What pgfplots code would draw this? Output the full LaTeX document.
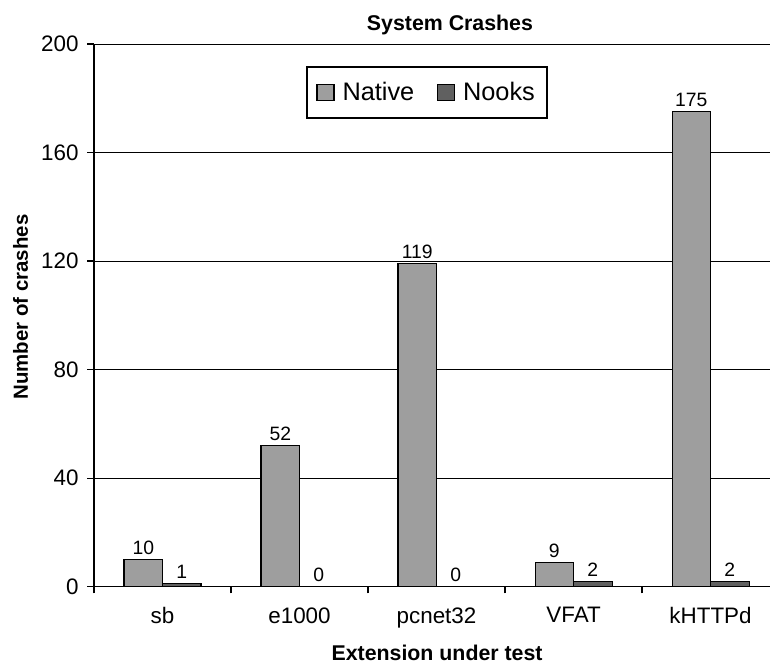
\documentclass[border=0pt]{standalone}
\usepackage{pgfplots}
\pgfplotsset{compat=1.18}
\usepackage{fontspec}
\setmainfont{Liberation Sans}
\definecolor{nativec}{RGB}{158,158,158}
\definecolor{nooksc}{RGB}{96,96,96}
\begin{document}
\begin{tikzpicture}
\begin{axis}[
  at={(0pt,0pt)}, anchor=south west,
  scale only axis, width=507pt, height=407pt,
  xmin=-0.5, xmax=4.434, ymin=0, ymax=200,
  ybar=0pt, bar width=0.281,
  axis x line*=bottom, axis y line*=left,
  axis line style={line width=0.9pt,-},
  ytick={0,40,...,200},
  xtick={0,1,2,3,4},
  xticklabels={sb,e1000,pcnet32,VFAT,kHTTPd},
  minor xtick={-0.5,0.5,1.5,2.5,3.5},
  major x tick style={draw=none},
  tick align=outside,
  major tick length=5pt, minor tick length=5pt,
  tick style={line width=0.9pt, black},
  ymajorgrids, grid style={black, line width=0.7pt},
  /pgf/number format/assume math mode=true,
  ticklabel style={font=\fontsize{16.8}{19}\selectfont},
  yticklabel style={xshift=-3pt},
  xticklabel style={yshift=-7pt},
  legend style={at={(0.4926,0.9106)}, anchor=center, draw=black, line width=1.1pt,
    fill=white, font=\fontsize{19}{22}\selectfont, legend columns=2,
    inner xsep=7pt, inner ysep=9.5pt, nodes={inner sep=2pt}},
  /tikz/every odd column/.append style={column sep=4pt},
  /tikz/every even column/.append style={column sep=15pt},
  legend image code/.code={\draw[#1, line width=0.8pt] (0pt,-6.3pt) rectangle (12.75pt,6.3pt);},
  nodes near coords,
  nodes near coords style={font=\fontsize{14.5}{17}\selectfont, black},
]
\addplot[fill=nativec, draw=black, line width=0.8pt]
  coordinates {(0,10) (1,52) (2,119) (3,9) (4,175)};
\addlegendentry{Native}
\addplot[fill=nooksc, draw=black, line width=0.8pt]
  coordinates {(0,1) (1,0) (2,0) (3,2) (4,2)};
\addlegendentry{Nooks}
\end{axis}
\node[anchor=base, font=\bfseries\fontsize{16}{19}\selectfont] at (267pt,416.8pt) {System Crashes};
\node[anchor=base, font=\bfseries\fontsize{16}{19}\selectfont] at (257.3pt,-55.7pt) {Extension under test};
\node[anchor=base, rotate=90, font=\bfseries\fontsize{15.3}{18}\selectfont] at (-49.5pt,209.8pt) {Number of crashes};
\pgfresetboundingbox
\path (-70.5pt,-58pt) rectangle (507pt,440pt);
\end{tikzpicture}
\end{document}
